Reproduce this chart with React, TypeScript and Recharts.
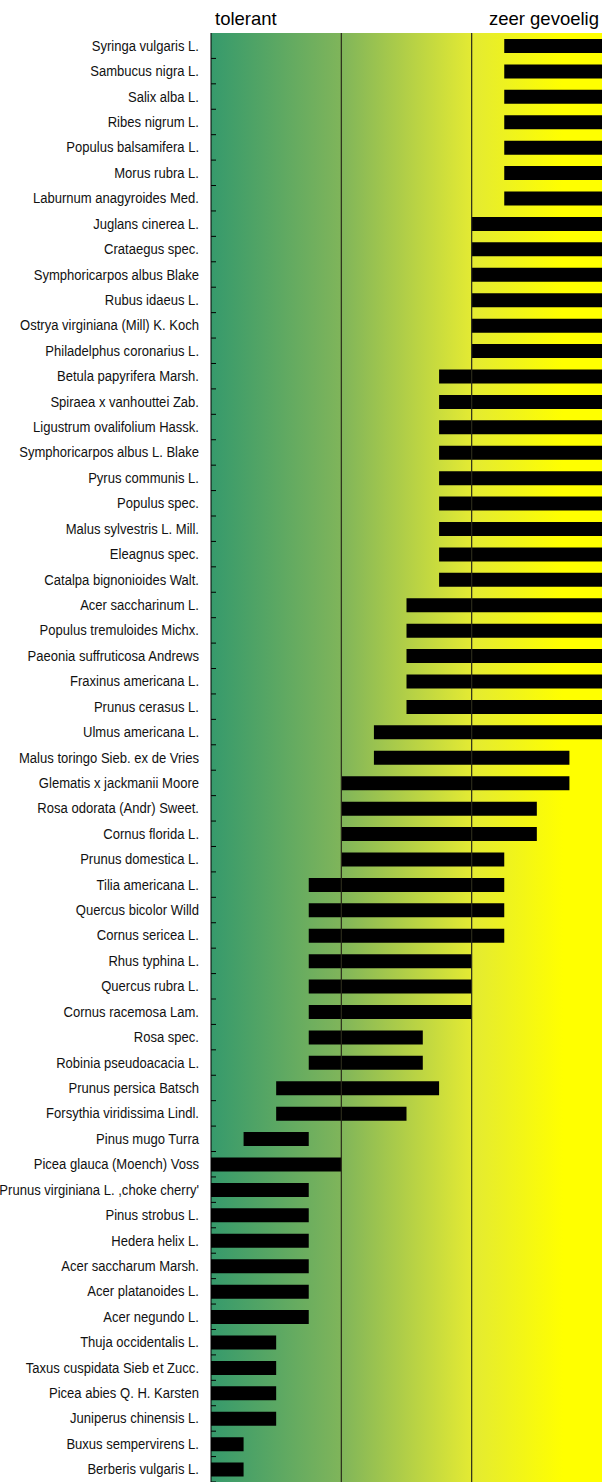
import { Bar, BarChart, ReferenceArea, ReferenceLine, XAxis, YAxis } from "recharts";

const species = [
  "Syringa vulgaris L.",
  "Sambucus nigra L.",
  "Salix alba L.",
  "Ribes nigrum L.",
  "Populus balsamifera L.",
  "Morus rubra L.",
  "Laburnum anagyroides Med.",
  "Juglans cinerea L.",
  "Crataegus spec.",
  "Symphoricarpos albus Blake",
  "Rubus idaeus L.",
  "Ostrya virginiana (Mill) K. Koch",
  "Philadelphus coronarius L.",
  "Betula papyrifera Marsh.",
  "Spiraea x vanhouttei Zab.",
  "Ligustrum ovalifolium Hassk.",
  "Symphoricarpos albus L. Blake",
  "Pyrus communis L.",
  "Populus spec.",
  "Malus sylvestris L. Mill.",
  "Eleagnus spec.",
  "Catalpa bignonioides Walt.",
  "Acer saccharinum L.",
  "Populus tremuloides Michx.",
  "Paeonia suffruticosa Andrews",
  "Fraxinus americana L.",
  "Prunus cerasus L.",
  "Ulmus americana L.",
  "Malus toringo Sieb. ex de Vries",
  "Glematis x jackmanii Moore",
  "Rosa odorata (Andr) Sweet.",
  "Cornus florida L.",
  "Prunus domestica L.",
  "Tilia americana L.",
  "Quercus bicolor Willd",
  "Cornus sericea L.",
  "Rhus typhina L.",
  "Quercus rubra L.",
  "Cornus racemosa Lam.",
  "Rosa spec.",
  "Robinia pseudoacacia L.",
  "Prunus persica Batsch",
  "Forsythia viridissima Lindl.",
  "Pinus mugo Turra",
  "Picea glauca (Moench) Voss",
  "Prunus virginiana L. ,choke cherry'",
  "Pinus strobus L.",
  "Hedera helix L.",
  "Acer saccharum Marsh.",
  "Acer platanoides L.",
  "Acer negundo L.",
  "Thuja occidentalis L.",
  "Taxus cuspidata Sieb et Zucc.",
  "Picea abies Q. H. Karsten",
  "Juniperus chinensis L.",
  "Buxus sempervirens L.",
  "Berberis vulgaris L.",
];

const rangeStart = [
  9, 9, 9, 9, 9, 9, 9,
  8, 8, 8, 8, 8, 8,
  7, 7, 7, 7, 7, 7, 7, 7, 7,
  6, 6, 6, 6, 6,
  5, 5,
  4, 4, 4, 4,
  3, 3, 3, 3, 3, 3, 3, 3,
  2, 2,
  1,
  0, 0, 0, 0, 0, 0, 0, 0, 0, 0, 0, 0, 0,
];

const rangeEnd = [
  12, 12, 12, 12, 12, 12, 12,
  12, 12, 12, 12, 12, 12,
  12, 12, 12, 12, 12, 12, 12, 12, 12,
  12, 12, 12, 12, 12,
  12, 11,
  11, 10, 10, 9,
  9, 9, 9, 8, 8, 8, 6.5, 6.5,
  7, 6,
  3,
  4, 3, 3, 3, 3, 3, 3, 2, 2, 2, 2, 1, 1,
];

const zoneLines = [4, 8];

const rows = species.map((name, i) => ({
  name,
  range: [rangeStart[i], rangeEnd[i]],
}));

const W = 602;
const H = 1482;
const TOP = 33;
const AXIS_X = 211;
const ROW_H = (H - TOP) / species.length;

// no narrow font installed: squeeze Liberation Sans horizontally instead
function SpeciesTick(props: any) {
  const { y, payload } = props;
  return (
    <g>
      <text
        transform={`translate(${AXIS_X - 12},${y + 5}) scale(0.87,1)`}
        textAnchor="end"
        fontFamily="'Liberation Sans', Arial, sans-serif"
        fontSize={15}
        fill="#111"
      >
        {payload.value}
      </text>
      <line x1={AXIS_X} x2={AXIS_X + 5} y1={y + ROW_H / 2} y2={y + ROW_H / 2} stroke="#000" />
    </g>
  );
}

const titleStyle = {
  position: "absolute" as const,
  top: 10,
  fontFamily: "'Liberation Sans', Arial, sans-serif",
  fontSize: 18.5,
  lineHeight: "18px",
  color: "#000",
};

export default function App() {
  return (
    <div style={{ position: "absolute", left: 0, top: 0, width: W, height: H, background: "#fff" }}>
      <div style={{ ...titleStyle, left: 215 }}>tolerant</div>
      <div style={{ ...titleStyle, right: 3 }}>zeer gevoelig</div>
      <BarChart
        width={W}
        height={H}
        data={rows}
        layout="vertical"
        margin={{ top: TOP, right: 0, bottom: 0, left: 0 }}
        barCategoryGap={0}
      >
        <defs>
          <linearGradient id="zoneFill" x1="0" y1="0" x2="1" y2="0">
            <stop offset="0" stopColor="#369a6c" />
            <stop offset="0.335" stopColor="#80b55a" />
            <stop offset="0.5" stopColor="#b2cf47" />
            <stop offset="0.665" stopColor="#e3ea33" />
            <stop offset="0.9" stopColor="#ffff00" />
            <stop offset="1" stopColor="#ffff00" />
          </linearGradient>
        </defs>
        <XAxis
          type="number"
          domain={[0, 12]}
          orientation="top"
          height={0}
          tick={false}
          tickLine={false}
          axisLine={{ stroke: "#222" }}
          allowDataOverflow
        />
        <YAxis
          type="category"
          dataKey="name"
          width={AXIS_X}
          interval={0}
          tickLine={false}
          axisLine={{ stroke: "#000" }}
          tick={<SpeciesTick />}
        />
        <ReferenceArea x1={0} x2={12} fill="url(#zoneFill)" fillOpacity={1} stroke="none" />
        {zoneLines.map(v => (
          <ReferenceLine key={v} x={v} stroke="#2a2a1a" strokeWidth={1.2} />
        ))}
        <Bar dataKey="range" fill="#000" barSize={14} isAnimationActive={false} />
      </BarChart>
    </div>
  );
}
